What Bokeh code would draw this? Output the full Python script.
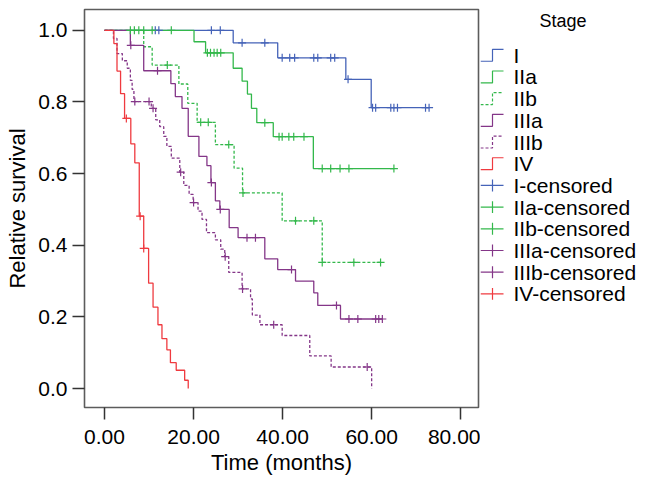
import numpy as np
from bokeh.plotting import figure
from bokeh.layouts import row
from bokeh.models import FixedTicker, PrintfTickFormatter, Range1d
from bokeh.core.properties import value
from bokeh.embed import file_html
from bokeh.resources import INLINE

# ---------------- data ----------------
stages = ["I", "IIa", "IIb", "IIIa", "IIIb", "IV"]

I_event_t = [28.9, 38.9, 54.2, 59.9]
I_event_s = [0.965, 0.923, 0.863, 0.784]
I_cens_t = [11.4, 12.2, 24.0, 26.0, 30.9, 36.0, 39.9, 41.6, 42.7, 47.0, 47.9,
            50.8, 51.7, 54.7, 60.2, 60.9, 64.3, 65.0, 65.8, 72.1, 72.9]

IIa_event_t = [20.1, 22.7, 28.9, 30.9, 32.1, 33.0, 34.2, 37.9, 46.9]
IIa_event_s = [0.968, 0.937, 0.894, 0.858, 0.822, 0.782, 0.742, 0.703, 0.614]
IIa_cens_t = [5.8, 6.7, 7.7, 8.8, 10.7, 15.0, 23.1, 23.8, 24.6, 25.3, 26.1,
              36.0, 39.2, 39.9, 41.4, 42.5, 44.8, 48.9, 50.8, 52.9, 54.9, 65.0]

IIb_event_t = [8.8, 10.7, 16.7, 18.7, 20.8, 24.9, 29.1, 31.0, 39.9, 48.9]
IIb_event_s = [0.954, 0.903, 0.850, 0.796, 0.743, 0.681, 0.615, 0.546, 0.468, 0.352]
IIb_cens_t = [14.1, 21.6, 23.3, 27.9, 31.1, 42.9, 47.0, 48.9, 56.0, 62.0]

IIIa_event_t = [5.8, 8.8, 14.9, 15.9, 17.4, 18.8, 21.2, 23.0, 23.9, 24.9, 25.9,
                28.0, 30.0, 36.0, 38.9, 42.9, 47.0, 47.9, 53.0]
IIIa_event_s = [0.958, 0.887, 0.851, 0.815, 0.782, 0.704, 0.648, 0.622, 0.575,
                0.524, 0.500, 0.449, 0.421, 0.362, 0.332, 0.300, 0.267, 0.232, 0.194]
IIIa_cens_t = [5.9, 11.9, 24.0, 26.0, 32.0, 33.9, 42.0, 52.1, 54.9, 56.9, 60.9,
               61.6, 62.4]

IIIb_event_t = [2.0, 2.8, 4.0, 5.1, 5.8, 6.2, 6.6, 10.5, 11.5, 12.4, 13.3, 14.0,
                15.0, 16.9, 17.8, 19.0, 19.9, 21.0, 21.9, 22.9, 24.9, 26.1, 27.0,
                27.9, 30.9, 32.8, 33.2, 34.9, 39.9, 46.1, 50.9, 60.0]
IIIb_event_s = [0.977, 0.935, 0.915, 0.894, 0.860, 0.835, 0.801, 0.782, 0.750,
                0.731, 0.704, 0.676, 0.643, 0.604, 0.567, 0.542, 0.519, 0.495,
                0.472, 0.435, 0.415, 0.389, 0.368, 0.324, 0.278, 0.250, 0.205,
                0.178, 0.148, 0.091, 0.060, 0.0]
IIIb_cens_t = [6.8, 10.0, 10.9, 17.1, 20.0, 27.1, 31.0, 38.0, 59.0]

IV_event_t = [2.1, 2.8, 3.6, 4.5, 5.9, 6.8, 7.8, 8.8, 9.9, 10.9, 12.0, 12.9,
              14.0, 14.8, 16.1, 18.0, 18.8]
IV_event_s = [0.963, 0.886, 0.823, 0.754, 0.683, 0.630, 0.481, 0.391, 0.294,
              0.227, 0.178, 0.139, 0.108, 0.072, 0.051, 0.023, 0.0]
IV_cens_t = [4.9, 8.0, 8.8]

x_ticks = [0, 20, 40, 60, 80]
y_ticks = [0.0, 0.2, 0.4, 0.6, 0.8, 1.0]
legend_title = "Stage"

data = {
    "I": (I_event_t, I_event_s, I_cens_t),
    "IIa": (IIa_event_t, IIa_event_s, IIa_cens_t),
    "IIb": (IIb_event_t, IIb_event_s, IIb_cens_t),
    "IIIa": (IIIa_event_t, IIIa_event_s, IIIa_cens_t),
    "IIIb": (IIIb_event_t, IIIb_event_s, IIIb_cens_t),
    "IV": (IV_event_t, IV_event_s, IV_cens_t),
}

BLUE = "#4563B8"
GREEN = "#33B84B"
PURPLE = "#843688"
RED = "#EF3A3F"
colors = {"I": BLUE, "IIa": GREEN, "IIb": GREEN, "IIIa": PURPLE, "IIIb": PURPLE, "IV": RED}
dashes = {"I": "solid", "IIa": "solid", "IIb": "3 2", "IIIa": "solid", "IIIb": "3 2", "IV": "solid"}

FONT = "Liberation Sans"
H = 477
FRAME_TOP, FRAME_BOTTOM = 9, 409


def surv_at(times, surv, t):
    s = 1.0
    for ti, si in zip(times, surv):
        if ti <= t:
            s = si
    return s


# ---------------- main plot ----------------
p = figure(width=480, height=H, output_backend="svg", toolbar_location=None,
           x_range=Range1d(-4.5, 84.0), y_range=Range1d(-0.053, 1.058),
           min_border_left=84, min_border_right=2, min_border_top=FRAME_TOP,
           min_border_bottom=H - FRAME_BOTTOM)
p.grid.visible = False
p.outline_line_color = "#5c5c5c"
p.outline_line_width = 1.6
p.background_fill_color = "white"
p.border_fill_color = "white"

for st in stages:
    et, es, ct = data[st]
    xs = [0.0] + list(et)
    ys = [1.0] + list(es)
    end = max(list(ct) + list(et))
    if end > xs[-1]:
        xs.append(end)
        ys.append(ys[-1])
    p.step(xs, ys, mode="after", line_color=colors[st], line_width=1.3,
           line_dash=dashes[st])
for st in stages:
    et, es, ct = data[st]
    cy = [surv_at(et, es, t) for t in ct]
    p.scatter(ct, cy, marker="cross", size=8, line_color=colors[st], line_width=1.2)

for ax in (p.xaxis[0], p.yaxis[0]):
    ax.axis_line_color = None
    ax.major_tick_line_color = "#333333"
    ax.major_tick_line_width = 1.5
    ax.major_tick_out = 12
    ax.major_tick_in = 0
    ax.minor_tick_line_color = None
    ax.major_label_text_font = FONT
    ax.major_label_text_font_size = "21px"
    ax.major_label_text_color = "black"
    ax.axis_label_text_font = FONT
    ax.axis_label_text_font_size = "22px"
    ax.axis_label_text_font_style = "normal"
    ax.axis_label_text_color = "black"

p.xaxis.ticker = FixedTicker(ticks=x_ticks)
p.xaxis.formatter = PrintfTickFormatter(format="%.2f")
p.yaxis.ticker = FixedTicker(ticks=y_ticks)
p.yaxis.formatter = PrintfTickFormatter(format="%.1f")
p.xaxis.axis_label = "Time (months)"
p.yaxis.axis_label = "Relative survival"
p.xaxis.major_label_standoff = 10
p.xaxis.axis_label_standoff = 3
p.yaxis.major_label_standoff = 5
p.yaxis.axis_label_standoff = 5

# ---------------- legend panel (pixel coordinates; frame aligned with main) ----------------
LW = 166
leg = figure(width=LW, height=H, output_backend="svg", toolbar_location=None,
             x_range=Range1d(0, LW), y_range=Range1d(FRAME_BOTTOM, FRAME_TOP),
             min_border=0, x_axis_location=None, y_axis_location=None)
leg.grid.visible = False
leg.outline_line_color = None
leg.background_fill_color = "white"
leg.border_fill_color = "white"

row_y0 = 55.0
row_h = 21.8
glyph_x0, glyph_xm, glyph_x1 = 0.0, 12.0, 23.0
text_x = 33.0

leg.text(x=[82.5], y=[21.0], text=[legend_title], text_align="center",
         text_baseline="middle", text_font=value(FONT), text_font_size="18px",
         text_color="black")

labels = []
for i, st in enumerate(stages):
    yc = row_y0 + i * row_h
    leg.line([glyph_x0, glyph_xm, glyph_xm, glyph_x1],
             [yc + 6, yc + 6, yc - 6, yc - 6], line_color=colors[st],
             line_width=1.2, line_dash=dashes[st])
    labels.append(st)
for j, st in enumerate(stages):
    i = len(stages) + j
    yc = row_y0 + i * row_h
    leg.line([glyph_x0, glyph_x1], [yc, yc], line_color=colors[st], line_width=1.2)
    leg.line([glyph_xm, glyph_xm], [yc - 6, yc + 6], line_color=colors[st], line_width=1.2)
    labels.append(st + "-censored")

leg.text(x=[text_x] * len(labels), y=[row_y0 + k * row_h for k in range(len(labels))],
         text=labels, text_align="left", text_baseline="middle",
         text_font=value(FONT), text_font_size="21px", text_color="black")

layout = row(p, leg, spacing=0)
open("out.html", "w").write(file_html(layout, INLINE))
